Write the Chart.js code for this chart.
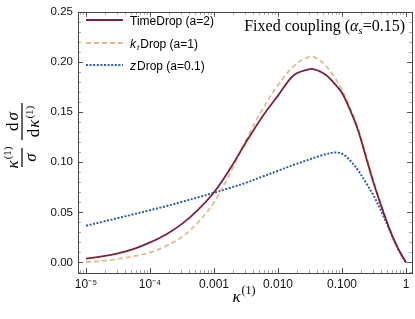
<!DOCTYPE html>
<html>
<head>
<meta charset="utf-8">
<script src="https://cdn.jsdelivr.net/npm/chart.js@4.4.0/dist/chart.umd.min.js"></script>
<style>
  html, body { margin: 0; padding: 0; background: #fff; }
  #wrap { width: 415px; height: 319px; position: relative; }
</style>
</head>
<body>
<div id="wrap"><canvas id="chart"></canvas></div>
<script>
// kappa^(1) sample points (log spaced)
const kappa = [1e-5, 1.78e-5, 3.16e-5, 5.62e-5, 1e-4, 1.78e-4, 3.16e-4, 5.62e-4, 1e-3, 1.78e-3,
               3.16e-3, 5.62e-3, 1e-2, 1.78e-2, 3.16e-2, 4.22e-2, 5.62e-2, 7.5e-2, 0.1, 0.133,
               0.178, 0.237, 0.316, 0.422, 0.562, 0.75, 1];
const timeDrop = [0.0039, 0.0060, 0.0090, 0.0135, 0.0200, 0.0280, 0.0385, 0.0525, 0.0700, 0.0935,
                  0.1200, 0.1450, 0.1665, 0.1870, 0.1930, 0.1915, 0.1870, 0.1790, 0.1690, 0.1525,
                  0.1320, 0.1050, 0.0780, 0.0540, 0.0320, 0.0140, 0];
const ktDrop   = [0.0005, 0.0015, 0.0035, 0.0063, 0.0100, 0.0165, 0.0255, 0.0400, 0.0600, 0.0890,
                  0.1220, 0.1520, 0.1770, 0.1960, 0.2055, 0.2030, 0.1960, 0.1855, 0.1720, 0.1545,
                  0.1340, 0.1070, 0.0800, 0.0555, 0.0330, 0.0145, 0];
const zDrop    = [0.0367, 0.0405, 0.0443, 0.0482, 0.0522, 0.0562, 0.0605, 0.0650, 0.0695, 0.0745,
                  0.0795, 0.0855, 0.0915, 0.0975, 0.1030, 0.1058, 0.1080, 0.1097, 0.1085, 0.1020,
                  0.0920, 0.0795, 0.0660, 0.0495, 0.0315, 0.0135, 0];

const xTicks = [1e-5, 1e-4, 1e-3, 1e-2, 1e-1, 1];
const xTickLabels = ['10\u207B\u2075', '10\u207B\u2074', '0.001', '0.010', '0.100', '1'];
const yTicks = [0, 0.05, 0.10, 0.15, 0.20, 0.25];

const colTime = '#7b2337';
const colKt = '#e2bb90';
const colZ = '#2d5ea8';

const SANS = "'Liberation Sans', Arial, sans-serif";
const SERIF = "'Liberation Serif', 'Times New Roman', serif";

function pts(vals) {
  return kappa.map((k, i) => ({ x: k, y: vals[i] }));
}

// draw a row of text pieces with different fonts / offsets
function drawRuns(ctx, runs, x, y, align, gap) {
  gap = gap || 0;
  let w = 0;
  runs.forEach((r, i) => {
    ctx.font = r[1];
    w += ctx.measureText(r[0]).width + (i ? gap : 0);
  });
  let cx = align === 'center' ? x - w / 2 : align === 'right' ? x - w : x;
  runs.forEach(r => {
    ctx.font = r[1];
    ctx.fillText(r[0], cx, y + (r[2] || 0));
    cx += ctx.measureText(r[0]).width + gap;
  });
}

// Mathematica style frame with inward ticks on all four sides
const frameTicks = {
  id: 'frameTicks',
  afterDatasetsDraw(chart) {
    const { ctx, chartArea: a, scales: { x, y } } = chart;
    ctx.save();
    ctx.lineWidth = 1;

    // minor ticks
    ctx.strokeStyle = '#aaa';
    ctx.beginPath();
    for (let e = -6; e <= 0; e++) {
      for (let m = 2; m <= 9; m++) {
        const v = m * Math.pow(10, e);
        const px = Math.round(x.getPixelForValue(v)) + 0.5;
        if (px <= a.left || px >= a.right) continue;
        ctx.moveTo(px, a.bottom); ctx.lineTo(px, a.bottom - 3);
        ctx.moveTo(px, a.top); ctx.lineTo(px, a.top + 3);
      }
    }
    for (let i = -1; i <= 25; i++) {
      if (i % 5 === 0) continue;
      const py = Math.round(y.getPixelForValue(i / 100)) + 0.5;
      if (py <= a.top || py >= a.bottom) continue;
      ctx.moveTo(a.left, py); ctx.lineTo(a.left + 3, py);
      ctx.moveTo(a.right, py); ctx.lineTo(a.right - 3, py);
    }
    ctx.stroke();

    // major ticks
    ctx.strokeStyle = '#555';
    ctx.beginPath();
    xTicks.forEach(v => {
      const px = Math.round(x.getPixelForValue(v)) + 0.5;
      ctx.moveTo(px, a.bottom); ctx.lineTo(px, a.bottom - 5);
      ctx.moveTo(px, a.top); ctx.lineTo(px, a.top + 5);
    });
    yTicks.forEach(v => {
      const py = Math.round(y.getPixelForValue(v)) + 0.5;
      ctx.moveTo(a.left, py); ctx.lineTo(a.left + 5, py);
      ctx.moveTo(a.right, py); ctx.lineTo(a.right - 5, py);
    });
    ctx.stroke();

    // frame
    ctx.strokeStyle = '#444';
    ctx.strokeRect(Math.round(a.left) + 0.5, Math.round(a.top) + 0.5,
                   Math.round(a.right - a.left), Math.round(a.bottom - a.top));

    ctx.fillStyle = '#000';
    ctx.textBaseline = 'alphabetic';
    ctx.textAlign = 'left';

    // legend, top left inside the frame
    const legend = [
      { color: colTime, dash: [], width: 1.8, runs: [['TimeDrop (a=2)', '12px ' + SANS]] },
      { color: colKt, dash: [5, 3], width: 1.8,
        runs: [['k', 'italic 12px ' + SANS], ['t', 'italic 8px ' + SANS, 2], ['Drop (a=1)', '12px ' + SANS]] },
      { color: colZ, dash: [2, 1.6], width: 2,
        runs: [['z', 'italic 12px ' + SANS], ['Drop (a=0.1)', '12px ' + SANS]] }
    ];
    const rowY = [20, 43, 65];
    legend.forEach((l, i) => {
      ctx.save();
      ctx.strokeStyle = l.color;
      ctx.lineWidth = l.width;
      ctx.setLineDash(l.dash);
      ctx.beginPath();
      ctx.moveTo(86, rowY[i]); ctx.lineTo(123, rowY[i]);
      ctx.stroke();
      ctx.restore();
      drawRuns(ctx, l.runs, 130, rowY[i] + 4.5, 'left', 1);
    });

    // annotation
    drawRuns(ctx, [
      ['Fixed coupling (', '16px ' + SERIF],
      ['\u03B1', 'italic 16px ' + SERIF],
      ['s', 'italic 11px ' + SERIF, 3],
      ['=0.15)', '16px ' + SERIF]
    ], 405, 31, 'right');

    // x axis title
    drawRuns(ctx, [
      ['\u03BA', 'italic 17px ' + SERIF],
      ['(1)', '12px ' + SERIF, -8]
    ], 244, 302, 'center', 1);

    // y axis title: (kappa / sigma) (d sigma / d kappa), rotated
    ctx.save();
    ctx.translate(22, 0);
    ctx.rotate(-Math.PI / 2);
    const big = '17px ' + SERIF, it = 'italic 17px ' + SERIF, sup = '11px ' + SERIF;
    drawRuns(ctx, [['\u03BA', it], ['(1)', sup, -7]], -157.5, -4.5, 'center', 1);
    drawRuns(ctx, [['\u03C3', it]], -157.5, 14, 'center');
    ctx.fillRect(-167, -0.6, 19, 1.2);
    drawRuns(ctx, [['d', big], ['\u03C3', it]], -121.5, -4.5, 'center', 2);
    drawRuns(ctx, [['d', big], ['\u03BA', it], ['(1)', sup, -6]], -121.5, 17, 'center', 1);
    ctx.fillRect(-140, -0.6, 37, 1.2);
    ctx.restore();

    ctx.restore();
  }
};

new Chart(document.getElementById('chart'), {
  type: 'line',
  data: {
    datasets: [
      { label: 'TimeDrop (a=2)', data: pts(timeDrop), borderColor: colTime, borderWidth: 1.8 },
      { label: 'ktDrop (a=1)', data: pts(ktDrop), borderColor: colKt, borderWidth: 1.8, borderDash: [5, 3] },
      { label: 'zDrop (a=0.1)', data: pts(zDrop), borderColor: colZ, borderWidth: 2, borderDash: [2, 1.6] }
    ]
  },
  options: {
    responsive: true,
    maintainAspectRatio: false,
    animation: false,
    layout: { padding: { top: 6, right: 3, left: 0, bottom: 0 } },
    elements: {
      point: { radius: 0 },
      line: { tension: 0.35, fill: false }
    },
    plugins: {
      legend: { display: false },
      tooltip: { enabled: false }
    },
    scales: {
      x: {
        type: 'logarithmic',
        min: 7.5e-6,
        max: 1.24,
        grid: { display: false, drawTicks: false },
        border: { display: false },
        afterBuildTicks: s => { s.ticks = xTicks.map(v => ({ value: v })); },
        afterFit: s => { s.height = 46; },
        ticks: {
          autoSkip: false,
          maxRotation: 0,
          padding: 4,
          color: '#111',
          font: { family: SANS, size: 12 },
          callback: (v) => xTickLabels[xTicks.indexOf(v)]
        }
      },
      y: {
        min: -0.0105,
        max: 0.25,
        grid: { display: false, drawTicks: false },
        border: { display: false },
        afterBuildTicks: s => { s.ticks = yTicks.map(v => ({ value: v })); },
        afterFit: s => { s.width = 78; },
        ticks: {
          padding: 5,
          color: '#111',
          font: { family: SANS, size: 11.5 },
          callback: v => v.toFixed(2)
        }
      }
    }
  },
  plugins: [frameTicks]
});
</script>
</body>
</html>
